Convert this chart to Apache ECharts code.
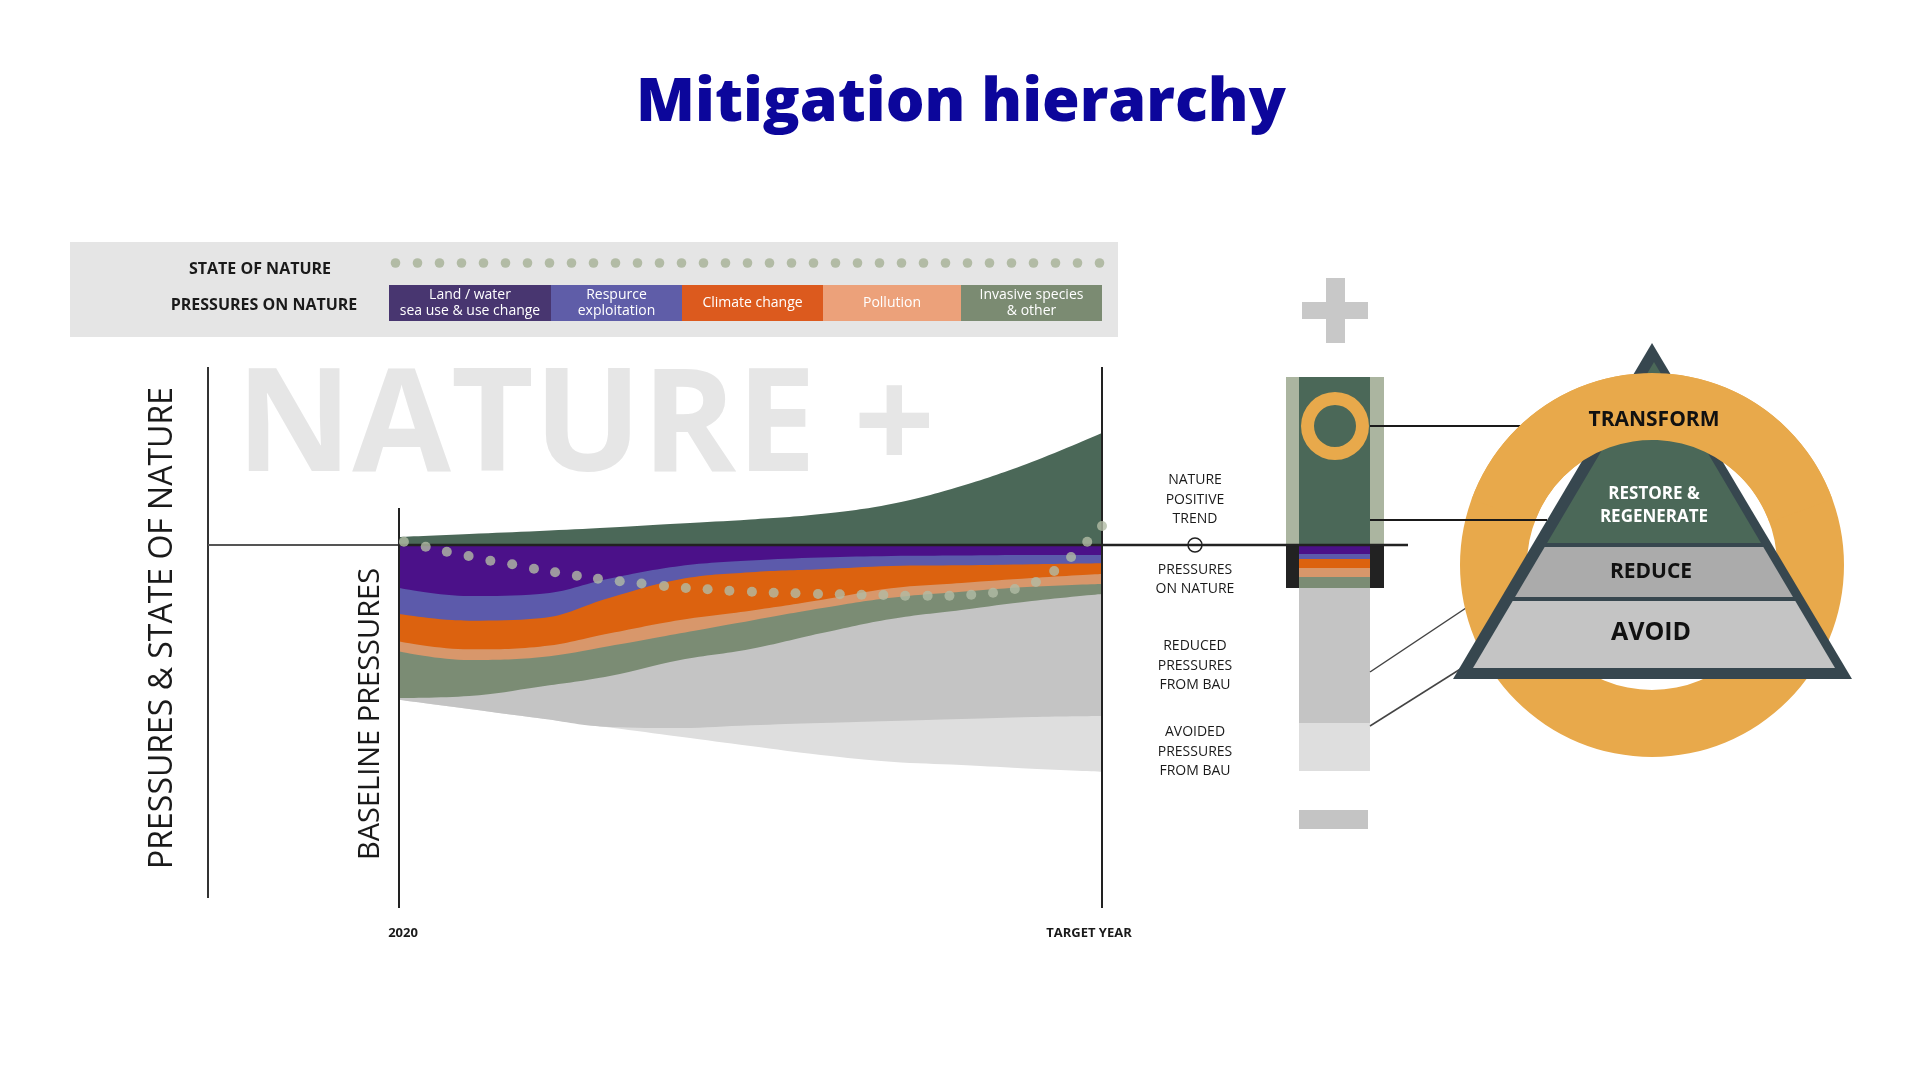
<!DOCTYPE html>
<html>
<head>
<meta charset="utf-8">
<title>Mitigation hierarchy</title>
<script src="https://cdn.jsdelivr.net/npm/echarts@6/dist/echarts.min.js"></script>
<style>
html, body { margin: 0; padding: 0; background: #fff; }
#chart { width: 1920px; height: 1080px; }
</style>
</head>
<body>
<div id="chart"></div>
<script>
// time axis: 0 = 2020, 100 = target year
var timeSteps = [0, 10, 20, 30, 40, 50, 60, 70, 80, 90, 100];
var timeLabels = ['2020', 'TARGET YEAR'];

// nature positive trend (above the zero line)
var naturePositive = [8, 11, 14, 17.5, 21.5, 25.5, 31, 41, 59, 83, 112];

// pressures on nature, thickness of each band (below the zero line)
var landUse       = [-43, -51, -49, -33.5, -21, -15.5, -12.5, -11, -10.5, -10, -10];
var resourceUse   = [-26, -24.7, -24.3, -19.2, -13.3, -11.8, -11.8, -10, -9.8, -9.3, -8.3];
var climateChange = [-27.4, -28.6, -28.4, -35.6, -40.7, -38.4, -30.7, -22.3, -17.7, -13.7, -10.7];
var pollution     = [-10, -10.7, -10.6, -12.7, -13.3, -10, -8.3, -9.4, -8.7, -8.7, -10];
var invasive      = [-46.6, -36, -29.4, -30, -26.7, -28.3, -25, -21.3, -18.3, -14.3, -10];
var reducedBau    = [-1.7, -13, -31.6, -51, -68, -76.3, -89.7, -102, -109, -116, -122];
var avoidedBau    = [0, 0, 0, -0.5, -8.7, -20.7, -32, -40.7, -46, -51.7, -55.7];

// state of nature (dotted line)
var stateX = [0.7, 3.8, 6.8, 9.9, 13.0, 16.1, 19.2, 22.2, 25.3, 28.3, 31.4, 34.5, 37.7, 40.8, 43.9, 47.0, 50.2,
              53.3, 56.4, 59.6, 62.7, 65.8, 68.9, 72.0, 75.2, 78.3, 81.4, 84.5, 87.6, 90.6, 93.2, 95.6, 97.9, 100];
var stateY = [3.3, -1.7, -6.7, -11, -15.7, -19.3, -23.7, -27.3, -30.7, -33.7, -36.3, -38.5, -41, -43, -44.3, -45.7, -46.7,
              -47.7, -48.3, -49, -49.3, -49.7, -50, -50.7, -50.7, -50.7, -49.7, -47.7, -44, -37, -26, -12, 3.3, 19];

// summary column at target year
var columnCategory = ['Target year'];
var columnNature = 168;
var columnPressures = [-9, -5, -9, -9, -11];   // land, resource, climate, pollution, invasive
var columnReduced = -135;
var columnAvoided = -48;
var columnFrame = [168, -43];

var pressureNames = ['Land / water\nsea use & use change', 'Respurce\nexploitation', 'Climate change', 'Pollution', 'Invasive species\n& other'];
var sideLabels = ['NATURE\nPOSITIVE\nTREND', 'PRESSURES\nON NATURE', 'REDUCED\nPRESSURES\nFROM BAU', 'AVOIDED\nPRESSURES\nFROM BAU'];

var FONT = '"Open Sans", "Noto Sans", sans-serif';
var bandColors = ['#4b1189', '#5c5aab', '#dc620f', '#d8976b', '#7b8c74', '#c4c4c4', '#dedede'];
var legendColors = ['#483670', '#5f5da8', '#dc5a1e', '#eca17a', '#7b8b72'];
var natureGreen = '#4b6858';
var dotColor = '#b2bba5';
var orange = '#e8a94b';
var slate = '#37474f';

var chart = echarts.init(document.getElementById('chart'));

function pairs(vals) {
    return timeSteps.map(function (t, i) { return [t, vals[i]]; });
}

function txt(x, y, text, size, opts) {
    opts = opts || {};
    return {
        type: 'text', x: x, y: y, rotation: opts.rotation || 0, z: opts.z || 11,
        style: {
            text: text, fill: opts.fill || '#1a1a1a',
            fontSize: size, fontWeight: opts.weight || 'normal', fontFamily: opts.family || FONT,
            lineHeight: opts.lineHeight || Math.round(size * 1.2),
            textAlign: opts.align || 'center', align: opts.align || 'center',
            textVerticalAlign: 'middle', verticalAlign: 'middle'
        }
    };
}
function line(x1, y1, x2, y2, color, w, z) {
    return { type: 'line', z: z, shape: { x1: x1, y1: y1, x2: x2, y2: y2 }, style: { stroke: color, lineWidth: w } };
}

var series = [];
// nature positive area
series.push({
    type: 'line', xAxisIndex: 0, yAxisIndex: 0, data: pairs(naturePositive), smooth: 0.4,
    showSymbol: false, lineStyle: { width: 0 }, areaStyle: { color: natureGreen, opacity: 1 }, z: 2
});

// pressure bands: each band's lower edge = running sum, drawn deepest first from the zero line
var bands = [landUse, resourceUse, climateChange, pollution, invasive, reducedBau, avoidedBau];
var edges = [];
var running = timeSteps.map(function () { return 0; });
bands.forEach(function (band) {
    running = running.map(function (s, i) { return s + band[i]; });
    edges.push(running.slice());
});
for (var b = bands.length - 1; b >= 0; b--) {
    series.push({
        type: 'line', xAxisIndex: 0, yAxisIndex: 0, data: pairs(edges[b]), smooth: 0.4,
        showSymbol: false, lineStyle: { width: 0 },
        areaStyle: { color: bandColors[b], opacity: 1, origin: 0 }, z: 2
    });
}

// state of nature dots
series.push({
    type: 'scatter', xAxisIndex: 0, yAxisIndex: 0, clip: false, symbolSize: 10, z: 20,
    data: stateX.map(function (x, i) { return [x, stateY[i]]; }),
    itemStyle: { color: dotColor }
});
// column frame (sage sides / black sides)
series.push({ type: 'bar', xAxisIndex: 1, yAxisIndex: 1, stack: 'frame', barWidth: '100%', data: [columnFrame[0]], itemStyle: { color: '#abb5a0' }, z: 2 });
series.push({ type: 'bar', xAxisIndex: 1, yAxisIndex: 1, stack: 'frame', barWidth: '100%', data: [columnFrame[1]], itemStyle: { color: '#222' }, z: 2 });
// column inner stack
var columnParts = [columnNature].concat(columnPressures, [columnReduced, columnAvoided]);
var columnColors = [natureGreen].concat(bandColors);
columnParts.forEach(function (v, i) {
    series.push({ type: 'bar', xAxisIndex: 2, yAxisIndex: 2, stack: 'column', barWidth: '100%', data: [v], itemStyle: { color: columnColors[i] }, z: 3 });
});

var g = [];
// title
g.push(txt(961, 104, 'Mitigation hierarchy', 61, { weight: 800, fill: '#0c069b' }));

// legend panel
g.push({ type: 'rect', z: 1, shape: { x: 70, y: 242, width: 1048, height: 95 }, style: { fill: '#e5e5e5' } });
g.push(txt(260, 269, 'STATE OF NATURE', 16, { weight: 'bold' }));
g.push(txt(264, 305, 'PRESSURES ON NATURE', 16, { weight: 'bold' }));
for (var d = 0; d < 33; d++) {
    g.push({ type: 'circle', z: 3, shape: { cx: 395.5 + d * 22, cy: 263, r: 4.8 }, style: { fill: dotColor } });
}
var boxEdges = [389, 551, 682, 823, 961, 1102];
pressureNames.forEach(function (name, i) {
    g.push({ type: 'rect', z: 2, shape: { x: boxEdges[i], y: 285, width: boxEdges[i + 1] - boxEdges[i], height: 36 }, style: { fill: legendColors[i] } });
    g.push(txt((boxEdges[i] + boxEdges[i + 1]) / 2, 303, name, 14, { fill: '#fff', lineHeight: 16 }));
});

// watermark
g.push(txt(236, 430, 'NATURE +', 143, { weight: 'bold', fill: '#e6e6e6', align: 'left', z: 0 }));

// axis frame
g.push(line(208, 367, 208, 898, '#333', 2, 10));
g.push(line(208, 545, 399, 545, '#555', 2, 10));
g.push(line(399, 545, 1408, 545, '#222', 2.5, 10));
g.push(line(399, 508, 399, 908, '#222', 2, 10));
g.push(line(1102, 367, 1102, 908, '#222', 2, 10));
g.push(txt(163, 628, 'PRESSURES & STATE OF NATURE', 32, { rotation: Math.PI / 2 }));
g.push(txt(371, 714, 'BASELINE PRESSURES', 29, { rotation: Math.PI / 2 }));
g.push(txt(403, 933, timeLabels[0], 13, { weight: 'bold' }));
g.push(txt(1089, 933, timeLabels[1], 13, { weight: 'bold' }));

// side labels
g.push(txt(1195, 500, sideLabels[0], 14, { lineHeight: 19.5 }));
g.push({ type: 'circle', z: 11, shape: { cx: 1195, cy: 545, r: 7 }, style: { fill: 'none', stroke: '#222', lineWidth: 1.5 } });
g.push(txt(1195, 579.5, sideLabels[1], 14, { lineHeight: 19.5 }));
g.push(txt(1195, 666, sideLabels[2], 14, { lineHeight: 19.5 }));
g.push(txt(1195, 752, sideLabels[3], 14, { lineHeight: 19.5 }));

// plus / minus and ring on the column
g.push({ type: 'rect', z: 3, shape: { x: 1302, y: 302, width: 66, height: 17 }, style: { fill: '#c8c8c8' } });
g.push({ type: 'rect', z: 3, shape: { x: 1326, y: 278, width: 19, height: 65 }, style: { fill: '#c8c8c8' } });
g.push({ type: 'rect', z: 3, shape: { x: 1299, y: 810, width: 69, height: 19 }, style: { fill: '#c4c4c4' } });
g.push({ type: 'ring', z: 12, shape: { cx: 1335, cy: 426, r: 34, r0: 21 }, style: { fill: orange } });

// connectors
g.push(line(1370, 426, 1521, 426, '#1a1a1a', 2, 5));
g.push(line(1370, 520, 1547, 520, '#1a1a1a', 2, 9.5));
g.push(line(1370, 672, 1466, 608, '#444', 1.5, 5));
g.push(line(1370, 726, 1462, 668, '#444', 1.5, 5));

// transform ring + pyramid
var cx = 1652, cy = 565;
g.push({ type: 'ring', z: 6, shape: { cx: cx, cy: cy, r: 192, r0: 125 }, style: { fill: orange } });
g.push({ type: 'polygon', z: 7, shape: { points: [[1652, 343], [1453, 679], [1852, 679]] }, style: { fill: slate } });
function lx(y) { return 1473 + 0.5923 * (668 - y); }
function rx(y) { return 1835 - 0.5923 * (668 - y); }
g.push({ type: 'polygon', z: 8, shape: { points: [[1654, 362], [rx(543), 543], [lx(543), 543]] }, style: { fill: natureGreen } });
g.push({ type: 'polygon', z: 8, shape: { points: [[lx(547), 547], [rx(547), 547], [rx(597), 597], [lx(597), 597]] }, style: { fill: '#ababab' } });
g.push({ type: 'polygon', z: 8, shape: { points: [[lx(601), 601], [rx(601), 601], [rx(668), 668], [lx(668), 668]] }, style: { fill: '#c4c4c4' } });
g.push({ type: 'sector', z: 9, shape: { cx: cx, cy: cy, r: 192, r0: 125, startAngle: 200 * Math.PI / 180, endAngle: 340 * Math.PI / 180, clockwise: true }, style: { fill: orange } });
g.push(txt(1654, 420, 'TRANSFORM', 21, { weight: 'bold', fill: '#111', z: 12 }));
g.push(txt(1654, 506, 'RESTORE &\nREGENERATE', 17, { weight: 'bold', fill: '#fff', lineHeight: 23, z: 12 }));
g.push(txt(1651, 572, 'REDUCE', 21, { weight: 'bold', fill: '#111', z: 12 }));
g.push(txt(1651, 633, 'AVOID', 25, { weight: 'bold', fill: '#111', z: 12 }));

chart.setOption({
    animation: false,
    backgroundColor: '#fff',
    grid: [
        { left: 399, top: 345, width: 703, height: 600 },
        { left: 1286, top: 345, width: 98, height: 600 },
        { left: 1299, top: 345, width: 71, height: 600 }
    ],
    xAxis: [
        { gridIndex: 0, type: 'value', min: 0, max: 100, show: false },
        { gridIndex: 1, type: 'category', data: columnCategory, show: false },
        { gridIndex: 2, type: 'category', data: columnCategory, show: false }
    ],
    yAxis: [0, 1, 2].map(function (gi) {
        return { gridIndex: gi, type: 'value', min: -400, max: 200, show: false };
    }),
    series: series,
    graphic: { elements: g }
});
</script>
</body>
</html>
